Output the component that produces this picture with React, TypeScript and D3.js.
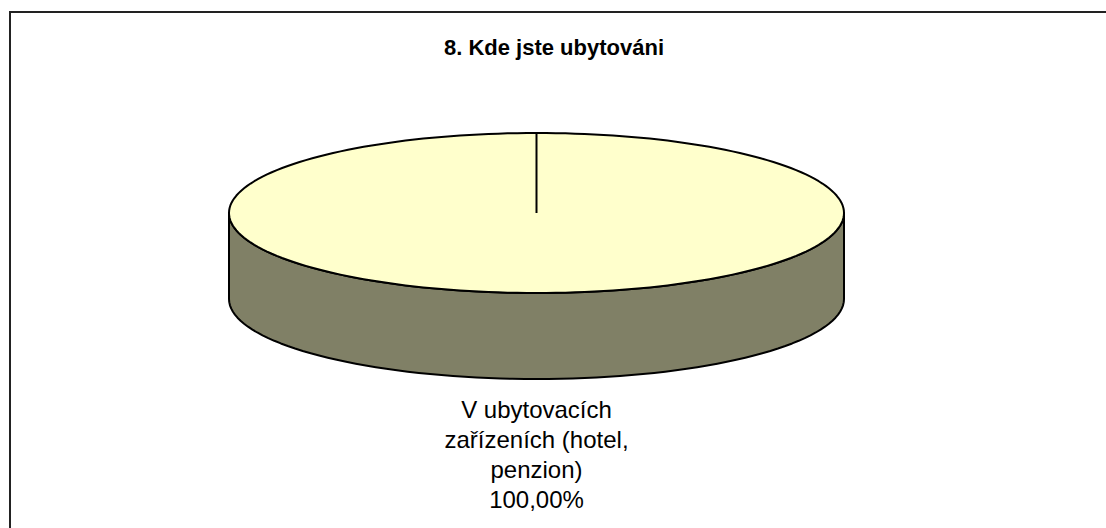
import React, { useEffect, useRef } from "react";
import * as d3 from "d3";

// chart data
const categories = ["V ubytovacích zařízeních (hotel, penzion)"];
const values = [100];
const labelLines = [["V ubytovacích", "zařízeních (hotel,", "penzion)"]];
const title = "8. Kde jste ubytováni";

const topColors = ["#FFFFCC"];
const sideColors = ["#808066"];

const W = 1106;
const H = 528;

function App() {
  const ref = useRef<SVGSVGElement | null>(null);

  useEffect(() => {
    const svg = d3.select(ref.current);
    svg.selectAll("*").remove();

    // frame of the chart area (runs off the right and bottom)
    svg
      .append("rect")
      .attr("x", 10)
      .attr("y", 12)
      .attr("width", 1200)
      .attr("height", 600)
      .attr("fill", "#fff")
      .attr("stroke", "#222")
      .attr("stroke-width", 2);

    svg
      .append("text")
      .attr("x", 554)
      .attr("y", 55)
      .attr("text-anchor", "middle")
      .style("font-family", "'Liberation Sans', Arial, sans-serif")
      .style("font-size", "22px")
      .style("font-weight", "bold")
      .text(title);

    // the 3d pie, tilted into an ellipse
    const cx = 536.5;
    const cy = 213;
    const rx = 307.5;
    const ry = 80;
    const depth = 86;

    const px = (a: number) => cx + rx * Math.sin(a);
    const py = (a: number) => cy - ry * Math.cos(a);

    const pie = d3.pie<number>().sort(null).value((d) => d);
    const arcs = pie(values);

    const g = svg.append("g");

    // side wall: front half only
    arcs.forEach((d, i) => {
      const a0 = Math.max(d.startAngle, Math.PI / 2);
      const a1 = Math.min(d.endAngle, (3 * Math.PI) / 2);
      if (a1 <= a0) return;
      const p = d3.path();
      const n = 80;
      for (let k = 0; k <= n; k++) {
        const a = a0 + ((a1 - a0) * k) / n;
        if (k === 0) p.moveTo(px(a), py(a));
        else p.lineTo(px(a), py(a));
      }
      for (let k = n; k >= 0; k--) {
        const a = a0 + ((a1 - a0) * k) / n;
        p.lineTo(px(a), py(a) + depth);
      }
      p.closePath();
      g.append("path")
        .attr("d", p.toString())
        .attr("fill", sideColors[i])
        .attr("stroke", "#000")
        .attr("stroke-width", 2)
        .attr("stroke-linejoin", "round");
    });

    // top faces
    arcs.forEach((d, i) => {
      const p = d3.path();
      const n = 200;
      const full = d.endAngle - d.startAngle >= 2 * Math.PI - 1e-6;
      if (!full) p.moveTo(cx, cy);
      for (let k = 0; k <= n; k++) {
        const a = d.startAngle + ((d.endAngle - d.startAngle) * k) / n;
        if (k === 0 && full) p.moveTo(px(a), py(a));
        else p.lineTo(px(a), py(a));
      }
      p.closePath();
      g.append("path")
        .attr("d", p.toString())
        .attr("fill", topColors[i])
        .attr("stroke", "#000")
        .attr("stroke-width", 2)
        .attr("stroke-linejoin", "round");
      // slice edge line
      g.append("line")
        .attr("x1", cx)
        .attr("y1", cy)
        .attr("x2", px(d.startAngle))
        .attr("y2", py(d.startAngle))
        .attr("stroke", "#000")
        .attr("stroke-width", 2);
    });

    // data labels
    const fmt = (v: number) => (v / d3.sum(values) * 100).toFixed(2).replace(".", ",") + "%";
    arcs.forEach((d, i) => {
      const lines = [...labelLines[i], fmt(d.value)];
      const t = svg
        .append("text")
        .attr("text-anchor", "middle")
        .attr("aria-label", categories[i])
        .style("font-family", "'Liberation Sans', Arial, sans-serif")
        .style("font-size", "24px")
        .attr("fill", "#000");
      lines.forEach((s, k) => {
        t.append("tspan").attr("x", cx).attr("y", 418 + k * 30).text(s);
      });
    });
  }, []);

  return (
    <svg
      ref={ref}
      width={W}
      height={H}
      style={{ position: "fixed", left: 0, top: 0, display: "block", background: "#fff" }}
    />
  );
}

export default App;
